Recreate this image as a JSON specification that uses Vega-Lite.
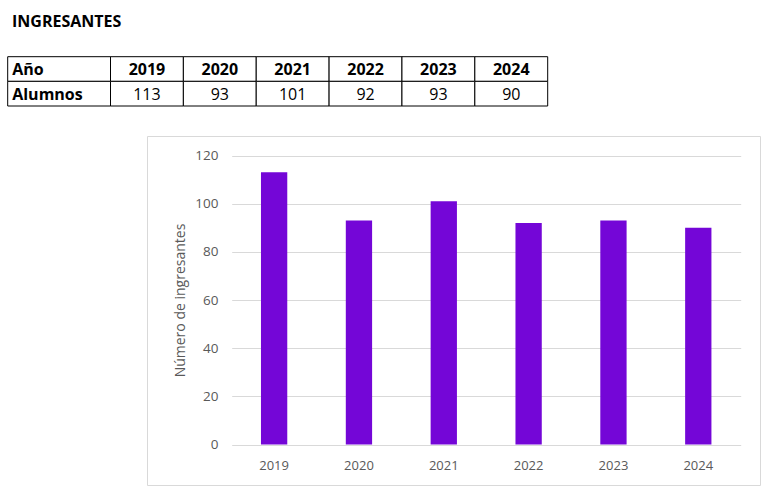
{
  "$schema": "https://vega.github.io/schema/vega-lite/v6.json",
  "width": 613,
  "height": 349,
  "autosize": {"type": "none"},
  "padding": {"left": 147, "top": 136, "right": 14, "bottom": 16},
  "background": "white",
  "title": {
    "text": "INGRESANTES",
    "anchor": "start",
    "frame": "group",
    "font": "Open Sans",
    "fontSize": 16,
    "fontWeight": "bold",
    "color": "black",
    "dx": -135,
    "offset": 26
  },
  "datasets": {
    "ingresantes": [
      {"year": 2019, "alumnos": 113},
      {"year": 2020, "alumnos": 93},
      {"year": 2021, "alumnos": 101},
      {"year": 2022, "alumnos": 92},
      {"year": 2023, "alumnos": 93},
      {"year": 2024, "alumnos": 90}
    ],
    "filas": [
      {"fila": "Año"},
      {"fila": "Alumnos"}
    ]
  },
  "layer": [
    {
      "data": {"name": "filas"},
      "layer": [
        {
          "mark": {"type": "rect", "fill": "white", "stroke": "black", "strokeWidth": 1},
          "encoding": {
            "x": {"datum": "col", "type": "nominal", "scale": {"domain": ["col"], "range": [-139.3, -36.5], "paddingInner": 0, "paddingOuter": 0}, "axis": null},
            "y": {"field": "fila", "type": "nominal", "sort": null, "scale": {"domain": ["Año", "Alumnos"], "range": [-79.3, -30], "paddingInner": 0, "paddingOuter": 0}, "axis": null}
          }
        },
        {
          "mark": {"type": "text", "align": "left", "baseline": "middle", "dx": 4.5, "dy": 1, "font": "Open Sans", "fontSize": 16, "fontWeight": "bold", "fill": "black"},
          "encoding": {
            "x": {"datum": "col", "type": "nominal", "bandPosition": 0},
            "y": {"field": "fila", "type": "nominal", "sort": null},
            "text": {"field": "fila", "type": "nominal"}
          }
        }
      ]
    },
    {
      "data": {"name": "ingresantes"},
      "layer": [
        {
          "mark": {"type": "rect", "fill": "white", "stroke": "black", "strokeWidth": 1},
          "encoding": {
            "x": {"field": "year", "type": "ordinal", "scale": {"range": [-36.5, 400.7], "paddingInner": 0, "paddingOuter": 0}, "axis": null},
            "y": {"datum": "Año", "type": "nominal", "scale": {"domain": ["Año", "Alumnos"], "range": [-79.3, -30], "paddingInner": 0, "paddingOuter": 0}, "axis": null}
          }
        },
        {
          "mark": {"type": "rect", "fill": "white", "stroke": "black", "strokeWidth": 1},
          "encoding": {
            "x": {"field": "year", "type": "ordinal"},
            "y": {"datum": "Alumnos", "type": "nominal"}
          }
        },
        {
          "mark": {"type": "text", "align": "center", "baseline": "middle", "dy": 1, "font": "Open Sans", "fontSize": 16, "fontWeight": "bold", "fill": "black"},
          "encoding": {
            "x": {"field": "year", "type": "ordinal"},
            "y": {"datum": "Año", "type": "nominal"},
            "text": {"field": "year", "type": "nominal"}
          }
        },
        {
          "mark": {"type": "text", "align": "center", "baseline": "middle", "dy": 1, "font": "Open Sans", "fontSize": 16, "fontWeight": "normal", "fill": "black"},
          "encoding": {
            "x": {"field": "year", "type": "ordinal"},
            "y": {"datum": "Alumnos", "type": "nominal"},
            "text": {"field": "alumnos", "type": "nominal"}
          }
        }
      ]
    },
    {
      "data": {"name": "ingresantes"},
      "mark": {"type": "bar", "color": "#7406D7"},
      "encoding": {
        "x": {
          "field": "year",
          "type": "ordinal",
          "scale": {"range": [84.7, 593.7], "paddingInner": 0.69, "paddingOuter": 0.345},
          "axis": {
            "orient": "bottom",
            "offset": -40.5,
            "title": null,
            "labelAngle": 0,
            "ticks": false,
            "domain": false,
            "labelPadding": 15,
            "labelFont": "Open Sans",
            "labelFontSize": 13,
            "labelColor": "#595959"
          }
        },
        "y": {
          "field": "alumnos",
          "type": "quantitative",
          "scale": {"domain": [0, 120], "range": [308.5, 19.5], "nice": false, "zero": true},
          "axis": {
            "orient": "left",
            "offset": -84.7,
            "title": "Número de ingresantes",
            "values": [0, 20, 40, 60, 80, 100, 120],
            "grid": true,
            "gridColor": "#d9d9d9",
            "gridWidth": 1,
            "domain": false,
            "ticks": false,
            "labelPadding": 13.7,
            "labelFont": "Open Sans",
            "labelFontSize": 13.5,
            "labelColor": "#595959",
            "titleFont": "Open Sans",
            "titleFontSize": 14,
            "titleFontWeight": "normal",
            "titleColor": "#595959",
            "titlePadding": 7
          }
        }
      }
    }
  ],
  "resolve": {"scale": {"x": "independent", "y": "independent"}},
  "config": {
    "view": {"stroke": "#d9d9d9", "strokeWidth": 1}
  }
}
